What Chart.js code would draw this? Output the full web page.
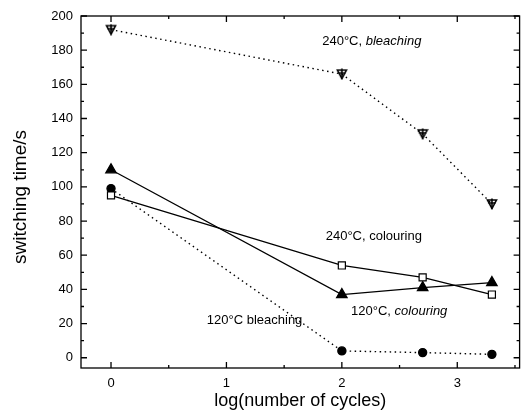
<!DOCTYPE html>
<html>
<head>
<meta charset="utf-8">
<script src="https://cdn.jsdelivr.net/npm/chart.js@4.4.1/dist/chart.umd.min.js"></script>
<style>
  html, body { margin: 0; padding: 0; background: #fff; }
  #wrap { width: 527px; height: 417px; position: relative; }
</style>
</head>
<body>
<div id="wrap"><canvas id="myChart"></canvas></div>
<script>
// log(number of cycles)
const cycles = [0, 2, 2.7, 3.3];
const bleach240 = [192, 166, 131, 90];
const colour240 = [95, 54, 47, 37];
const colour120 = [110, 37, 41, 44];
const bleach120 = [99, 4, 3, 2];

const xTicks = [0, 1, 2, 3];
const yTicks = [0, 20, 40, 60, 80, 100, 120, 140, 160, 180, 200];

const FONT = 'Liberation Sans, Arial, sans-serif';

function pts(ys) {
  return cycles.map((x, i) => ({ x: x, y: ys[i] }));
}

// down triangle with a cross inside
function crossTri() {
  const c = document.createElement('canvas');
  c.width = 12; c.height = 12;
  const g = c.getContext('2d');
  g.strokeStyle = '#000';
  g.lineWidth = 1.6;
  g.beginPath();
  g.moveTo(1.5, 2); g.lineTo(10.5, 2); g.lineTo(6, 10.5); g.closePath();
  g.stroke();
  g.beginPath();
  g.moveTo(6, 0.5); g.lineTo(6, 11);
  g.moveTo(2.5, 5); g.lineTo(9.5, 5);
  g.stroke();
  return c;
}

// inward tick marks on all four sides + frame
const frame = {
  id: 'frame',
  afterDraw(chart) {
    const ctx = chart.ctx;
    const a = chart.chartArea;
    const xs = chart.scales.x, ys = chart.scales.y;
    ctx.save();
    ctx.strokeStyle = '#000';
    ctx.lineWidth = 1.3;
    ctx.strokeRect(a.left, a.top, a.right - a.left, a.bottom - a.top);
    ctx.beginPath();
    for (let v = 0; v <= 3.5; v += 0.5) {
      const px = xs.getPixelForValue(v);
      const len = (v % 1 === 0) ? 6 : 3;
      ctx.moveTo(px, a.bottom); ctx.lineTo(px, a.bottom - len);
      ctx.moveTo(px, a.top); ctx.lineTo(px, a.top + len);
    }
    for (let v = 0; v <= 200; v += 10) {
      const py = ys.getPixelForValue(v);
      const len = (v % 20 === 0) ? 6 : 3;
      ctx.moveTo(a.left, py); ctx.lineTo(a.left + len, py);
      ctx.moveTo(a.right, py); ctx.lineTo(a.right - len, py);
    }
    ctx.stroke();

    // annotations, [x, y, normal part, italic part]
    const notes = [
      [1.83, 185, '240°C, ', 'bleaching'],
      [1.86, 71, '240°C, colouring', ''],
      [2.08, 27, '120°C, ', 'colouring'],
      [0.83, 22, '120°C bleaching', '']
    ];
    ctx.fillStyle = '#000';
    ctx.textBaseline = 'middle';
    ctx.textAlign = 'left';
    notes.forEach(n => {
      let px = xs.getPixelForValue(n[0]);
      const py = ys.getPixelForValue(n[1]);
      ctx.font = '13px ' + FONT;
      ctx.fillText(n[2], px, py);
      px += ctx.measureText(n[2]).width;
      if (n[3]) {
        ctx.font = 'italic 13px ' + FONT;
        ctx.fillText(n[3], px, py);
      }
    });

    // y axis title
    ctx.translate(21, 197);
    ctx.rotate(-Math.PI / 2);
    ctx.textAlign = 'center';
    ctx.font = '19px ' + FONT;
    ctx.fillText('switching time/s', 0, 0);
    ctx.restore();
  }
};

new Chart(document.getElementById('myChart'), {
  type: 'scatter',
  data: {
    datasets: [
      {
        label: '240°C, bleaching',
        data: pts(bleach240),
        showLine: true,
        borderColor: '#000',
        borderWidth: 1.4,
        borderDash: [1.5, 3.5],
        pointStyle: crossTri(),
        pointRadius: 6
      },
      {
        label: '240°C, colouring',
        data: pts(colour240),
        showLine: true,
        borderColor: '#000',
        borderWidth: 1.3,
        pointStyle: 'rect',
        pointRadius: 5,
        pointBackgroundColor: '#fff',
        pointBorderColor: '#000',
        pointBorderWidth: 1.2
      },
      {
        label: '120°C, colouring',
        data: pts(colour120),
        showLine: true,
        borderColor: '#000',
        borderWidth: 1.3,
        pointStyle: 'triangle',
        pointRadius: 6,
        pointBackgroundColor: '#000',
        pointBorderColor: '#000'
      },
      {
        label: '120°C bleaching',
        data: pts(bleach120),
        showLine: true,
        borderColor: '#000',
        borderWidth: 1.4,
        borderDash: [1.5, 3.5],
        pointStyle: 'circle',
        pointRadius: 4,
        pointBackgroundColor: '#000',
        pointBorderColor: '#000'
      }
    ]
  },
  options: {
    responsive: true,
    maintainAspectRatio: false,
    animation: false,
    layout: { padding: { left: 0, right: 0, top: 16, bottom: 0 } },
    plugins: { legend: { display: false }, tooltip: { enabled: false } },
    scales: {
      x: {
        type: 'linear',
        min: -0.26,
        max: 3.54,
        afterBuildTicks: s => { s.ticks = xTicks.map(v => ({ value: v })); },
        afterFit: s => { s.height = 49; },
        grid: { display: false, drawTicks: false },
        border: { display: false },
        ticks: { color: '#000', font: { family: FONT, size: 13 }, padding: 8 },
        title: {
          display: true,
          text: 'log(number of cycles)',
          color: '#000',
          font: { family: FONT, size: 18 },
          padding: { top: 0, bottom: 5 }
        }
      },
      y: {
        min: -6,
        max: 200,
        afterBuildTicks: s => { s.ticks = yTicks.map(v => ({ value: v })); },
        afterFit: s => { s.width = 81; },
        grid: { display: false, drawTicks: false },
        border: { display: false },
        ticks: { color: '#000', font: { family: FONT, size: 13 }, padding: 8 }
      }
    }
  },
  plugins: [frame]
});
</script>
</body>
</html>
